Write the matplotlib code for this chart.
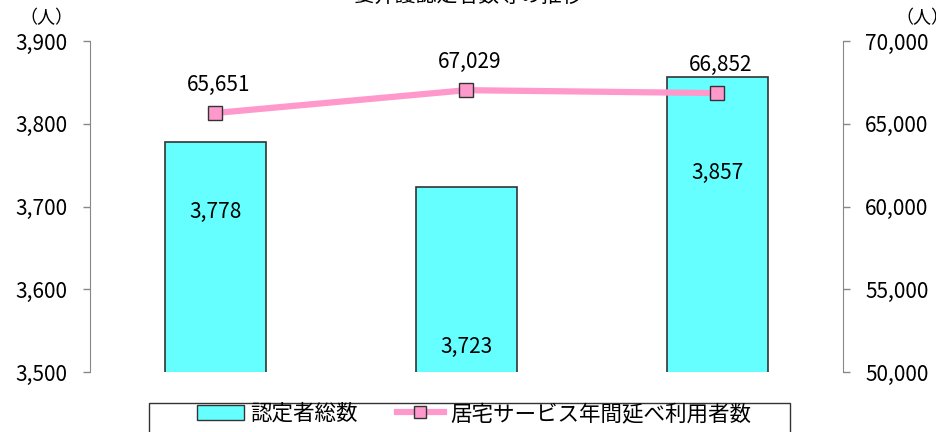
import matplotlib
matplotlib.use('Agg')
import matplotlib.pyplot as plt
from matplotlib.ticker import FuncFormatter
from matplotlib.lines import Line2D
from matplotlib.patches import Patch, Rectangle

plt.rcParams['font.family'] = ['Noto Sans CJK JP', 'DejaVu Sans']

years = ['1', '2', '3']
certified = [3778, 3723, 3857]
home_service = [65651, 67029, 66852]
# heights (left-axis units) where the bar value labels sit
bar_label_y = [3693, 3530, 3740]

bar_color = '#66FFFF'
line_color = '#FF99CC'
spine_color = '#888888'
fs = 15

fig = plt.figure(figsize=(9.37, 4.32), dpi=100)
ax = fig.add_axes([90 / 937, 1 - 372 / 432, 753 / 937, 331 / 432])
ax2 = ax.twinx()

x = range(len(years))
ax.bar(x, certified, width=0.4, color=bar_color, edgecolor='#333333', linewidth=1.2, zorder=2)
for i, v in enumerate(certified):
    ax.text(i, bar_label_y[i], f'{v:,}', ha='center', va='center', fontsize=fs)

ax2.plot(x, home_service, color=line_color, linewidth=4.5, marker='s', markersize=10,
         markerfacecolor='#FF99CC', markeredgecolor='#333333', markeredgewidth=1.0, zorder=3)
for i, v in enumerate(home_service):
    ax2.annotate(f'{v:,}', (i, v), xytext=(2, 20), textcoords='offset points',
                 ha='center', va='center', fontsize=fs)

ax.set_xlim(-0.5, 2.5)
ax.set_ylim(3500, 3900)
ax.set_yticks([3500, 3600, 3700, 3800, 3900])
ax2.set_ylim(50000, 70000)
ax2.set_yticks([50000, 55000, 60000, 65000, 70000])
fmt = FuncFormatter(lambda v, p: f'{int(v):,}')
ax.yaxis.set_major_formatter(fmt)
ax2.yaxis.set_major_formatter(fmt)

ax.set_xticks([])
for a in (ax, ax2):
    a.spines['top'].set_visible(False)
    a.spines['bottom'].set_visible(False)
    a.spines['left'].set_color(spine_color)
    a.spines['right'].set_color(spine_color)
    a.tick_params(axis='y', colors=spine_color, labelcolor='black', labelsize=fs,
                  length=5, width=1, pad=11)
ax.spines['right'].set_visible(False)
ax2.spines['left'].set_visible(False)

fig.text(46 / 937, 1 - 18 / 432, '（人）', ha='center', va='center', fontsize=13)
fig.text(922 / 937, 1 - 18 / 432, '（人）', ha='center', va='center', fontsize=13)
fig.text(468 / 937, 1 + 4 / 432, '要介護認定者数等の推移', ha='center', va='center', fontsize=15)

# legend frame, running off the bottom edge
fig.patches.append(Rectangle((149 / 937, -0.05), 641 / 937, 0.05 + 29 / 432,
                             transform=fig.transFigure, facecolor='white',
                             edgecolor='#333333', linewidth=1.0))
handles = [Patch(facecolor=bar_color, edgecolor='#333333'),
           Line2D([], [], color=line_color, linewidth=4.5, marker='s', markersize=9,
                  markerfacecolor='#FF99CC', markeredgecolor='#333333')]
leg = fig.legend(handles, ['認定者総数', '居宅サービス年間延べ利用者数'],
                 loc='center', bbox_to_anchor=(474 / 937, 1 - 414 / 432),
                 ncol=2, frameon=False, fontsize=15.5,
                 handlelength=2.2, handletextpad=0.3, columnspacing=1.8)

fig.savefig('out.png', dpi=100)
